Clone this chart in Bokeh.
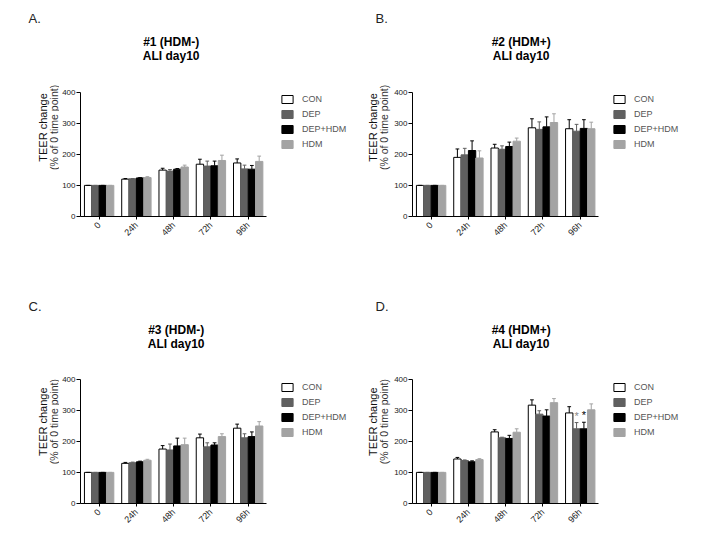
from bokeh.plotting import figure
from bokeh.models import (ColumnDataSource, Range1d, Label, Legend, LegendItem,
                          FixedTicker)
from bokeh.transform import dodge
from bokeh.layouts import column, row
from bokeh.embed import file_html
from bokeh.resources import INLINE
from bokeh.core.properties import value
import math

times = ["0", "24h", "48h", "72h", "96h"]
groups = ["CON", "DEP", "DEP+HDM", "HDM"]
yticks = [0, 100, 200, 300, 400]

# Panel A  #1 (HDM-)
a_con = [100, 120, 149, 168, 172]
a_con_err = [0, 2, 6, 16, 13]
a_dep = [100, 121, 146, 162, 153]
a_dep_err = [0, 1, 5, 16, 12]
a_dephdm = [100, 124, 152, 163, 152]
a_dephdm_err = [0, 1, 2, 15, 12]
a_hdm = [100, 125, 159, 180, 177]
a_hdm_err = [0, 3, 6, 17, 17]

# Panel B  #2 (HDM+)
b_con = [100, 190, 220, 285, 282]
b_con_err = [0, 27, 12, 29, 29]
b_dep = [100, 198, 216, 280, 274]
b_dep_err = [0, 21, 11, 24, 22]
b_dephdm = [100, 212, 225, 288, 283]
b_dephdm_err = [0, 31, 14, 32, 28]
b_hdm = [100, 188, 242, 302, 282]
b_hdm_err = [0, 23, 10, 28, 21]

# Panel C  #3 (HDM-)
c_con = [100, 129, 175, 211, 242]
c_con_err = [0, 3, 11, 12, 13]
c_dep = [100, 131, 172, 182, 211]
c_dep_err = [0, 2, 19, 13, 13]
c_dephdm = [100, 134, 185, 188, 215]
c_dephdm_err = [0, 2, 25, 7, 15]
c_hdm = [100, 139, 189, 215, 249]
c_hdm_err = [0, 3, 21, 9, 14]

# Panel D  #4 (HDM+)
d_con = [100, 143, 230, 316, 291]
d_con_err = [0, 5, 7, 17, 20]
d_dep = [100, 138, 211, 287, 240]
d_dep_err = [0, 2, 2, 11, 20]
d_dephdm = [100, 134, 209, 281, 240]
d_dephdm_err = [0, 3, 10, 20, 21]
d_hdm = [100, 141, 229, 324, 301]
d_hdm_err = [0, 3, 11, 13, 19]

# significance marks in panel D (time, group, height)
d_star_time = ["96h", "96h"]
d_star_group = ["DEP", "DEP+HDM"]
d_star_y = [280, 284]

FILL = {"CON": "#ffffff", "DEP": "#606060", "DEP+HDM": "#000000", "HDM": "#a3a3a3"}
LINE = {"CON": "#000000", "DEP": "#606060", "DEP+HDM": "#000000", "HDM": "#a3a3a3"}
BAR_W = 0.197
OFFS = {"CON": -1.5 * BAR_W, "DEP": -0.5 * BAR_W, "DEP+HDM": 0.5 * BAR_W, "HDM": 1.5 * BAR_W}
FONT = "Liberation Sans"
PX_PER_GROUP = 37.4     # horizontal size of one time group
PX_PER_400 = 124.5      # vertical size of the 0-400 axis
XC = [i + 0.5 for i in range(len(times))]   # group centres on the x scale


def side_fig(letter, letter_x, letter_y, ylab_y, x1, x2, width, height):
    """Narrow figure holding the panel letter and the y-axis title."""
    f = figure(width=width, height=height, x_range=Range1d(0, width),
               y_range=Range1d(height, 0), x_axis_type=None, y_axis_type=None,
               output_backend="svg", toolbar_location=None, min_border=0,
               title=None)
    f.outline_line_color = None
    f.add_layout(Label(x=letter_x, y=letter_y, text=letter, text_font=FONT,
                       text_font_size="13px", text_color="#222222",
                       text_align="left", text_baseline="middle"))
    f.add_layout(Label(x=x1, y=ylab_y, text="TEER change", text_font=FONT,
                       text_font_size="11px", text_color="#111111", angle=90,
                       angle_units="deg", text_align="center", text_baseline="middle"))
    f.add_layout(Label(x=x2, y=ylab_y, text="(% of 0 time point)", text_font=FONT,
                       text_font_size="10.5px", text_color="#333333", angle=90,
                       angle_units="deg", text_align="center", text_baseline="middle"))
    return f


def make_panel(t1, t2, series, errs, width, height, bl, bb, title_dx, title_dy,
               legend_dy, stars=None):
    fw = width - bl
    fh = height - bb
    x_end = fw / PX_PER_GROUP
    y_end = 400 * fh / PX_PER_400
    p = figure(x_range=Range1d(0, x_end), y_range=Range1d(0, y_end),
               width=width, height=height, output_backend="svg",
               toolbar_location=None, min_border_left=bl, min_border_top=0,
               min_border_right=0, min_border_bottom=bb, title=None)
    p.outline_line_color = None
    p.xgrid.grid_line_color = None
    p.ygrid.grid_line_color = None

    data = {"xc": XC}
    for g in groups:
        data[g] = series[g]
        data[g + "_hi"] = [m + e for m, e in zip(series[g], errs[g])]
    src = ColumnDataSource(data)

    items = []
    for g in groups:
        xo = dodge("xc", OFFS[g], range=p.x_range)
        r = p.vbar(x=xo, top=g, bottom=0, width=BAR_W, source=src,
                   fill_color=FILL[g], line_color=LINE[g], line_width=1)
        items.append(LegendItem(label=g, renderers=[r]))
        ec = LINE[g]
        p.segment(x0=xo, y0=g, x1=xo, y1=g + "_hi", source=src,
                  line_color=ec, line_width=1)
        p.segment(x0=dodge("xc", OFFS[g] - 0.05, range=p.x_range), y0=g + "_hi",
                  x1=dodge("xc", OFFS[g] + 0.05, range=p.x_range), y1=g + "_hi",
                  source=src, line_color=ec, line_width=1)

    if stars:
        st_t, st_g, st_y = stars
        for i in range(len(st_t)):
            one = ColumnDataSource({"xc": [XC[times.index(st_t[i])]],
                                    "y": [st_y[i]], "s": ["*"]})
            p.text(x=dodge("xc", OFFS[st_g[i]], range=p.x_range), y="y", text="s",
                   source=one, text_font=value(FONT), text_font_size="11px",
                   text_align="center", text_baseline="middle",
                   text_color="#888888" if i == 0 else "#000000")

    legend = Legend(items=items, location=(200, legend_dy), orientation="vertical")
    legend.padding = 0
    legend.margin = 0
    legend.spacing = 5
    legend.glyph_width = 14
    legend.glyph_height = 10
    legend.label_height = 10
    legend.label_standoff = 8
    legend.border_line_color = None
    legend.background_fill_alpha = 0
    legend.label_text_font = FONT
    legend.label_text_font_size = "9px"
    legend.label_text_color = "#555555"
    p.add_layout(legend, "center")

    ax = p.yaxis[0]
    ax.ticker = FixedTicker(ticks=yticks)
    ax.bounds = (0, 400)
    ax.minor_tick_line_color = None
    ax.major_tick_out = 4
    ax.major_tick_in = 0
    ax.major_label_standoff = 1
    ax.major_label_text_font = FONT
    ax.major_label_text_font_size = "8px"
    ax.major_label_text_color = "#222222"
    ax.axis_line_color = "#000000"
    ax.major_tick_line_color = "#000000"

    xa = p.xaxis[0]
    xa.ticker = FixedTicker(ticks=XC)
    xa.major_label_overrides = {c: t for c, t in zip(XC, times)}
    xa.bounds = (0, len(times))
    xa.minor_tick_line_color = None
    xa.major_label_orientation = math.pi / 4
    xa.major_tick_out = 3
    xa.major_tick_in = 0
    xa.major_label_standoff = 4
    xa.major_label_text_font = FONT
    xa.major_label_text_font_size = "9px"
    xa.major_label_text_color = "#222222"
    xa.axis_line_color = "#000000"
    xa.major_tick_line_color = "#000000"

    sx = x_end / fw
    sy = y_end / fh
    for txt, dy in ((t1, title_dy), (t2, title_dy - 14)):
        p.add_layout(Label(x=title_dx * sx, y=dy * sy, text=txt, text_font=FONT,
                           text_font_size="12px", text_font_style="bold",
                           text_color="#000000", text_align="center",
                           text_baseline="middle"))
    return p


def pack(c, d, dh, h):
    return {"CON": c, "DEP": d, "DEP+HDM": dh, "HDM": h}


lA = side_fig("A.", 28, 22, 154, 42, 53, 59, 262)
pA = make_panel("#1 (HDM-)", "ALI day10",
                pack(a_con, a_dep, a_dephdm, a_hdm),
                pack(a_con_err, a_dep_err, a_dephdm_err, a_hdm_err),
                296, 262, 20, 46, 91, 175, 67)
lB = side_fig("B.", 20, 22, 154, 17, 28, 36, 262)
pB = make_panel("#2 (HDM+)", "ALI day10",
                pack(b_con, b_dep, b_dephdm, b_hdm),
                pack(b_con_err, b_dep_err, b_dephdm_err, b_hdm_err),
                320, 262, 20, 46, 109, 175, 67)
lC = side_fig("C.", 28, 50, 179, 42, 53, 59, 271)
pC = make_panel("#3 (HDM-)", "ALI day10",
                pack(c_con, c_dep, c_dephdm, c_hdm),
                pack(c_con_err, c_dep_err, c_dephdm_err, c_hdm_err),
                296, 271, 20, 30, 96, 174, 66)
lD = side_fig("D.", 20, 50, 179, 17, 28, 36, 271)
pD = make_panel("#4 (HDM+)", "ALI day10",
                pack(d_con, d_dep, d_dephdm, d_hdm),
                pack(d_con_err, d_dep_err, d_dephdm_err, d_hdm_err),
                320, 271, 20, 30, 109, 174, 66,
                stars=(d_star_time, d_star_group, d_star_y))

layout = column(row(lA, pA, lB, pB), row(lC, pC, lD, pD))
open("out.html", "w").write(file_html(layout, INLINE))
